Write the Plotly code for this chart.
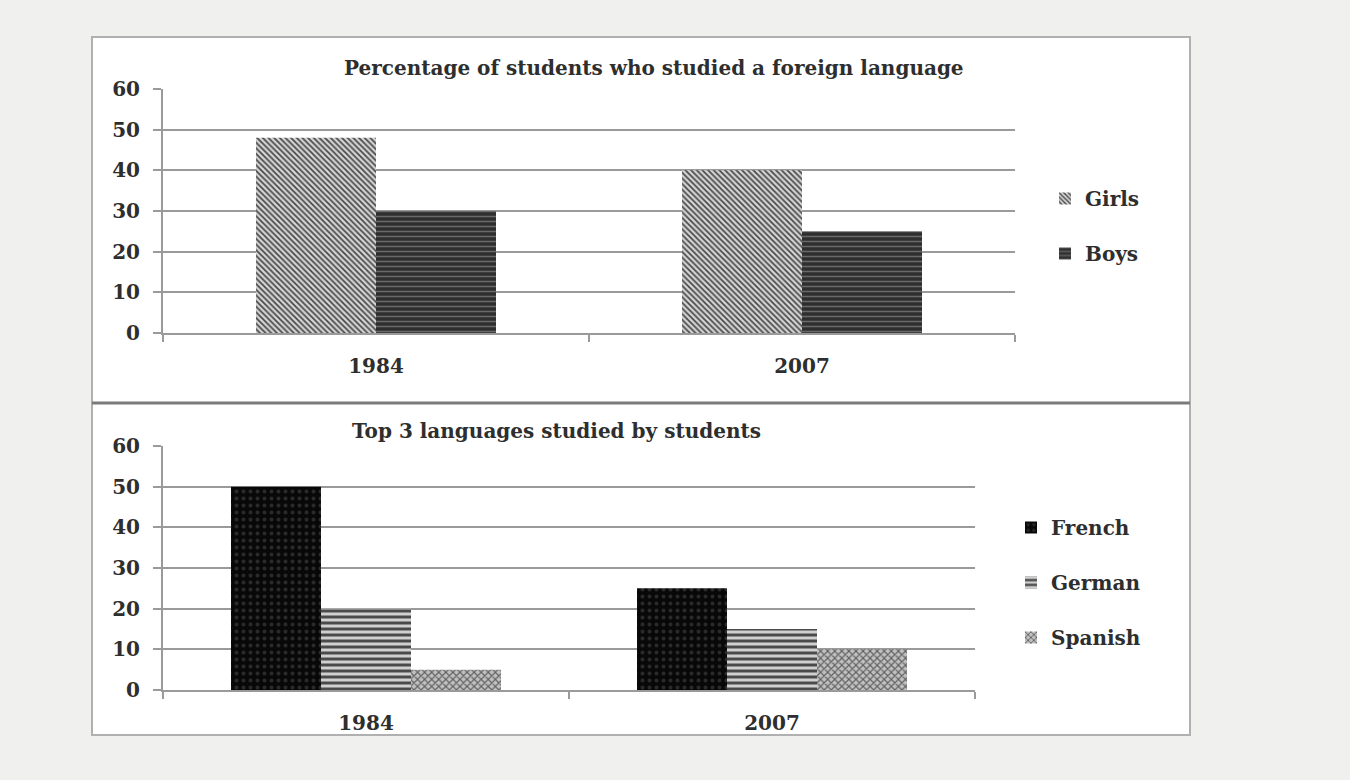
import plotly.graph_objects as go

# ---- data ----
years = ["1984", "2007"]
girls = [48, 40]
boys = [30, 25]
french = [50, 25]
german = [20, 15]
spanish = [5, 10]
y_ticks = [0, 10, 20, 30, 40, 50, 60]
title_top = "Percentage of students who studied a foreign language"
title_bottom = "Top 3 languages studied by students"

W, H = 1350, 780
FONT = "DejaVu Serif"
TXT = "#2e2e2e"
GRID = "#9a9a9a"


def px(x):
    return x / W


def py(y):
    return 1 - y / H


fig = go.Figure()

# top chart traces
w_top = 120 / 426
fig.add_trace(go.Bar(
    x=years, y=girls, name="Girls", xaxis="x", yaxis="y",
    width=w_top, offset=-w_top, legend="legend", legendgroup="g1",
    marker=dict(color="#d4d4d4", line=dict(width=0),
                pattern=dict(shape="\\", fgcolor="#474747", bgcolor="#d4d4d4",
                             size=4, solidity=0.42, fillmode="replace")),
))
fig.add_trace(go.Bar(
    x=years, y=boys, name="Boys", xaxis="x", yaxis="y",
    width=w_top, offset=0, legend="legend", legendgroup="g2",
    marker=dict(color="#2f2f2f", line=dict(width=0),
                pattern=dict(shape="-", fgcolor="#6a6a6a", bgcolor="#2f2f2f",
                             size=5, solidity=0.3, fillmode="replace")),
))

# bottom chart traces
w_bot = 90 / 406
fig.add_trace(go.Bar(
    x=years, y=french, name="French", xaxis="x2", yaxis="y2",
    width=w_bot, offset=-1.5 * w_bot, legend="legend2", legendgroup="l1",
    marker=dict(color="#080808", line=dict(width=0),
                pattern=dict(shape=".", fgcolor="#2a2a2a", bgcolor="#080808",
                             size=7, solidity=0.25, fillmode="replace")),
))
fig.add_trace(go.Bar(
    x=years, y=german, name="German", xaxis="x2", yaxis="y2",
    width=w_bot, offset=-0.5 * w_bot, legend="legend2", legendgroup="l2",
    marker=dict(color="#d0d0d0", line=dict(width=0),
                pattern=dict(shape="-", fgcolor="#4a4a4a", bgcolor="#d0d0d0",
                             size=6, solidity=0.5, fillmode="replace")),
))
fig.add_trace(go.Bar(
    x=years, y=spanish, name="Spanish", xaxis="x2", yaxis="y2",
    width=w_bot, offset=0.5 * w_bot, legend="legend2", legendgroup="l3",
    marker=dict(color="#c0c0c0", line=dict(width=0),
                pattern=dict(shape="x", fgcolor="#606060", bgcolor="#c0c0c0",
                             size=5, solidity=0.4, fillmode="replace")),
))

axis_font = dict(family=FONT, size=20, color=TXT, weight="bold")
yax_common = dict(
    range=[0, 60], tickvals=y_ticks, showgrid=True, gridcolor=GRID, gridwidth=2,
    showline=True, linecolor=GRID, linewidth=2, ticks="outside", ticklen=8,
    tickcolor=GRID, tickwidth=2, tickfont=axis_font, zeroline=False, fixedrange=True,
    automargin=False, ticklabelstandoff=9,
)
xax_common = dict(
    showline=True, linecolor=GRID, linewidth=2, ticks="outside", ticklen=7,
    tickcolor=GRID, tickwidth=2, tickson="boundaries", tickfont=axis_font,
    showgrid=False, fixedrange=True, automargin=False, ticklabelstandoff=14,
)
legend_font = dict(family=FONT, size=20, color=TXT, weight="bold")

fig.update_layout(
    width=W, height=H,
    margin=dict(l=0, r=0, t=0, b=0, pad=0, autoexpand=False),
    paper_bgcolor="#f0f0ee",
    plot_bgcolor="white",
    barmode="overlay",
    font=dict(family=FONT, color=TXT),
    xaxis=dict(domain=[px(163), px(1015)], anchor="y", **xax_common),
    yaxis=dict(domain=[py(333), py(89)], anchor="x", **yax_common),
    xaxis2=dict(domain=[px(163), px(975)], anchor="y2", **xax_common),
    yaxis2=dict(domain=[py(690), py(446)], anchor="x2", **yax_common),
    legend=dict(x=px(1045), y=py(179), xanchor="left", yanchor="top",
                font=legend_font, bgcolor="rgba(0,0,0,0)",
                tracegroupgap=26, itemwidth=30, traceorder="grouped"),
    legend2=dict(x=px(1011), y=py(508), xanchor="left", yanchor="top",
                 font=legend_font, bgcolor="rgba(0,0,0,0)",
                 tracegroupgap=26, itemwidth=30, traceorder="grouped"),
    shapes=[
        dict(type="rect", xref="paper", yref="paper", layer="below",
             x0=px(92), x1=px(1190), y0=py(403), y1=py(37),
             fillcolor="white", line=dict(color="#b0b0b0", width=2)),
        dict(type="rect", xref="paper", yref="paper", layer="below",
             x0=px(92), x1=px(1190), y0=py(735), y1=py(403),
             fillcolor="white", line=dict(color="#b0b0b0", width=2)),
        dict(type="line", xref="paper", yref="paper", layer="above",
             x0=px(92), x1=px(1190), y0=py(403), y1=py(403),
             line=dict(color="#7a7a7a", width=3)),
    ],
    annotations=[
        dict(text=title_top, xref="paper", yref="paper",
             x=px(654), y=py(68), xanchor="center", yanchor="middle",
             showarrow=False, font=dict(family=FONT, size=20, color=TXT, weight="bold")),
        dict(text=title_bottom, xref="paper", yref="paper",
             x=px(556), y=py(431), xanchor="center", yanchor="middle",
             showarrow=False, font=dict(family=FONT, size=20, color=TXT, weight="bold")),
    ],
)

fig.write_html(
    "out.html",
    config={"displayModeBar": False},
    post_script="document.body.style.margin='0';document.body.style.overflow='hidden';",
)
